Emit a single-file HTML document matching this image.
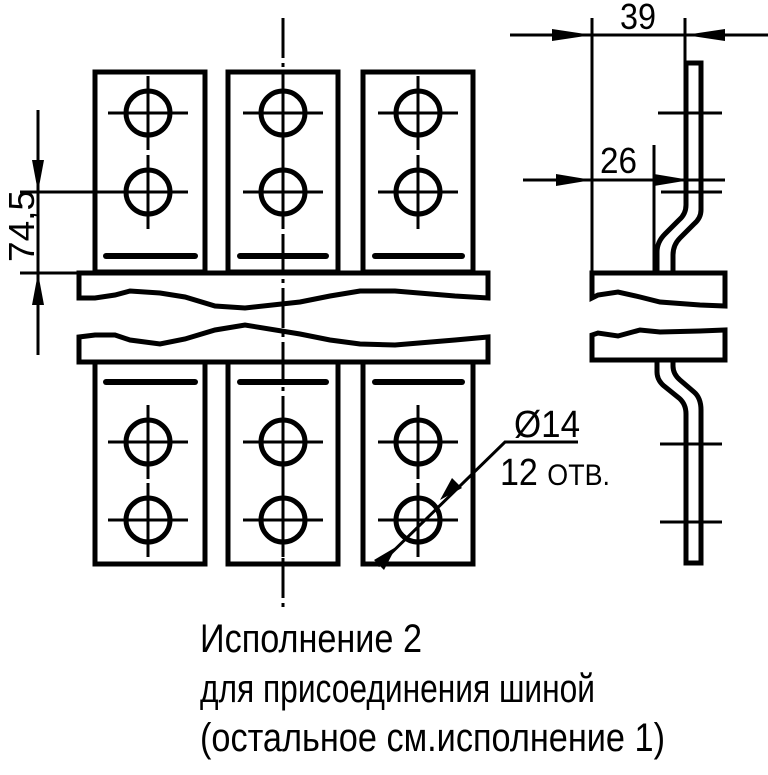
<!DOCTYPE html>
<html><head><meta charset="utf-8"><style>
html,body{margin:0;padding:0;background:#fff}
svg{display:block}
text{font-family:"Liberation Sans Narrow","Liberation Sans",sans-serif;fill:#000}
</style></head><body>
<svg width="768" height="775" viewBox="0 0 768 775" xmlns="http://www.w3.org/2000/svg">
<defs>
<g id="hole"><circle r="22" fill="none" stroke="#000" stroke-width="5"/>
<line x1="-40" y1="0" x2="40" y2="0" stroke="#000" stroke-width="3"/>
<line x1="0" y1="-37" x2="0" y2="37" stroke="#000" stroke-width="3"/></g>
</defs>
<g fill="none" stroke="#000" stroke-width="5">
<rect x="95" y="72" width="110" height="200"/>
<rect x="228" y="72" width="110" height="200"/>
<rect x="363" y="72" width="110" height="200"/>
<rect x="95" y="362" width="110" height="202"/>
<rect x="228" y="362" width="110" height="202"/>
<rect x="363" y="362" width="110" height="202"/>
<path d="M79 298 V273 H488 V298 L455 296 L395 291 L360 291 L330 296 L300 302 L245 308 L215 306 L185 297 L160 293 L130 291 L115 295 L95 298 Z"/>
<path d="M79 337 V362 H488 V337 L455 340 L395 345 L360 344 L330 340 L300 334 L245 325 L215 330 L185 339 L160 344 L130 340 L115 335 L95 335 Z"/>
<path d="M592 298 V273 H725 V306 L700 305 L660 302 L640 297 L618 292 L598 295 Z"/>
<path d="M592 335 V360 H725 V330 L700 331 L660 332 L640 330 L618 336 L598 333 Z"/>
<path d="M686 205 V63 H701 V210 Q701 218 694 224 L680 238 Q673 245 673 255 V272"/>
<path d="M686 205 Q686 214 679 220 L665 234 Q657 242 657 252 V272"/>
<path d="M657 360 V372 Q657 380 664 386 L679 398 Q686 404 686 414 V563 H701 V410 Q701 398 694 392 L680 380 Q673 374 673 366 V360"/>
</g>
<g stroke="#000" stroke-width="6" stroke-linecap="round">
<line x1="106" y1="256" x2="195" y2="256"/><line x1="240" y1="256" x2="326" y2="256"/><line x1="375" y1="256" x2="462" y2="256"/>
<line x1="106" y1="382" x2="195" y2="382"/><line x1="240" y1="382" x2="326" y2="382"/><line x1="375" y1="382" x2="462" y2="382"/>
</g>
<use href="#hole" x="148" y="113"/><use href="#hole" x="148" y="192"/>
<use href="#hole" x="283" y="113"/><use href="#hole" x="283" y="192"/>
<use href="#hole" x="418" y="113"/><use href="#hole" x="418" y="192"/>
<use href="#hole" x="148" y="442"/><use href="#hole" x="148" y="520"/>
<use href="#hole" x="283" y="442"/><use href="#hole" x="283" y="520"/>
<use href="#hole" x="418" y="442"/><use href="#hole" x="418" y="520"/>
<g stroke="#000" stroke-width="3" fill="none">
<line x1="283" y1="18" x2="283" y2="608" stroke-dasharray="40 5 4 5"/>
<line x1="38" y1="110" x2="38" y2="355"/>
<line x1="20" y1="192" x2="148" y2="192"/>
<line x1="20" y1="273" x2="77" y2="273"/>
<line x1="592" y1="18" x2="592" y2="272"/>
<line x1="685" y1="18" x2="685" y2="63"/>
<line x1="510" y1="35" x2="768" y2="35"/>
<line x1="523" y1="180" x2="725" y2="180"/>
<line x1="654" y1="145" x2="654" y2="272"/>
<line x1="658" y1="113" x2="722" y2="113"/>
<line x1="661" y1="192" x2="722" y2="192"/>
<line x1="660" y1="444" x2="722" y2="444"/>
<line x1="660" y1="522" x2="722" y2="522"/>
<polyline points="578,442 505,442 378,566"/>
</g>
<g fill="#000">
<polygon points="38,192 32,160 44,160"/>
<polygon points="38,273 32,305 44,305"/>
<polygon points="592,35 552,29 552,41"/>
<polygon points="685,35 725,29 725,41"/>
<polygon points="592,180 556,174 556,186"/>
<polygon points="690,180 654,174 654,186"/>
<polygon points="440,500 452,478 462,488"/>
<polygon points="396,547 374,560 384,570"/>
</g>
<text x="620" y="29" font-size="36" textLength="36" lengthAdjust="spacingAndGlyphs">39</text>
<text x="600" y="173" font-size="36" textLength="37" lengthAdjust="spacingAndGlyphs">26</text>
<text x="34" y="262" font-size="36" textLength="72" lengthAdjust="spacingAndGlyphs" transform="rotate(-90 34 262)">74,5</text>
<text x="514" y="437" font-size="38" textLength="66" lengthAdjust="spacingAndGlyphs">Ø14</text>
<text x="500" y="485" font-size="38" textLength="110" lengthAdjust="spacingAndGlyphs">12 <tspan font-size="30">ОТВ.</tspan></text>
<text x="200" y="652" font-size="40" textLength="222" lengthAdjust="spacingAndGlyphs">Исполнение 2</text>
<text x="200" y="702" font-size="40" textLength="395" lengthAdjust="spacingAndGlyphs">для присоединения шиной</text>
<text x="200" y="751" font-size="40" textLength="465" lengthAdjust="spacingAndGlyphs">(остальное см.исполнение 1)</text>
</svg>
</body></html>
